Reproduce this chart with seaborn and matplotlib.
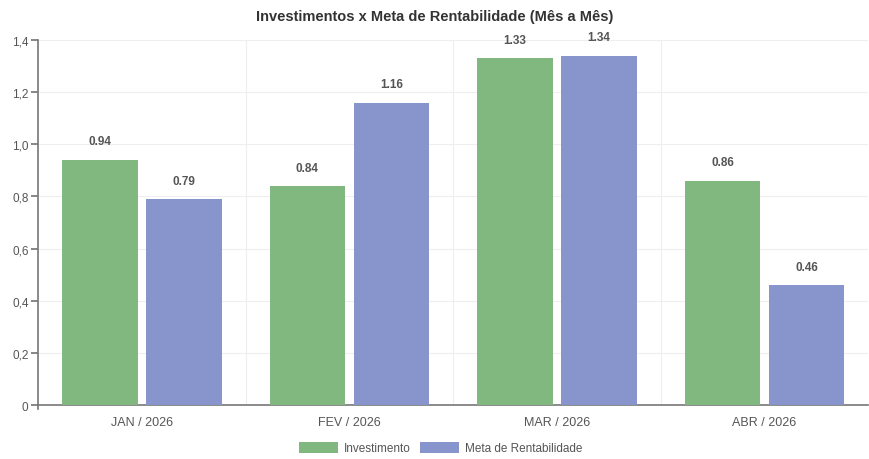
import matplotlib
matplotlib.use("Agg")
import matplotlib.pyplot as plt
import matplotlib.ticker as mticker
import seaborn as sns
import pandas as pd

meses = ["JAN / 2026", "FEV / 2026", "MAR / 2026", "ABR / 2026"]
investimento = [0.94, 0.84, 1.33, 0.86]
meta = [0.79, 1.16, 1.34, 0.46]
series = ["Investimento", "Meta de Rentabilidade"]
cores = ["#80b880", "#8895cc"]

df = pd.DataFrame({
    "mes": meses * 2,
    "valor": investimento + meta,
    "serie": [series[0]] * len(meses) + [series[1]] * len(meses),
})

sns.set_theme(style="white")
plt.rcParams["font.family"] = ["Liberation Sans", "DejaVu Sans"]

fig = plt.figure(figsize=(8.69, 4.6), dpi=100)
ax = fig.add_axes([0.044, 0.117, 0.955, 0.794])

sns.barplot(data=df, x="mes", y="valor", hue="serie", palette=cores,
            width=0.81, gap=0.1, saturation=1, linewidth=0, ax=ax, zorder=3)

# rótulos em cima das barras
for cont in ax.containers:
    ax.bar_label(cont, fmt="%.2f", padding=9, fontsize=8.5, fontweight="bold", color="#555555")

ax.set_ylim(0, 1.4)
ax.set_xlim(-0.5, 3.5)
ax.yaxis.set_major_locator(mticker.MultipleLocator(0.2))
ax.yaxis.set_major_formatter(mticker.FuncFormatter(
    lambda v, p: "0" if abs(v) < 1e-9 else f"{v:.1f}".replace(".", ",")))

ax.set_xlabel("")
ax.set_ylabel("")
ax.set_xticks(range(len(meses)))
ax.set_xticklabels(meses)
ax.set_xticks([0.5, 1.5, 2.5], minor=True)
ax.grid(axis="y", color="#eeeeee", lw=0.8, zorder=0)
ax.grid(axis="x", which="minor", color="#eeeeee", lw=0.8, zorder=0)

for s in ["top", "right"]:
    ax.spines[s].set_visible(False)
ax.spines["left"].set_color("#777777")
ax.spines["bottom"].set_color("#777777")
ax.spines["left"].set_linewidth(1.2)
ax.spines["bottom"].set_linewidth(1.2)
ax.spines["left"].set_bounds(-0.015, 1.4)

ax.tick_params(axis="y", left=True, length=5, color="#777777", labelsize=8.5, labelcolor="#555555", pad=2)
ax.tick_params(axis="x", which="major", bottom=False, labelsize=9, labelcolor="#555555", pad=2)
ax.tick_params(axis="x", which="minor", bottom=False)

ax.legend_.remove()
handles, labels = ax.get_legend_handles_labels()
fig.legend(handles[:2], labels[:2], loc="center", bbox_to_anchor=(0.507, 0.024), ncol=2,
           frameon=False, fontsize=8.5, handlelength=3.3, handleheight=1.1,
           columnspacing=0.8, handletextpad=0.5, labelcolor="#555555")

fig.text(0.5, 0.963, "Investimentos x Meta de Rentabilidade (Mês a Mês)", ha="center", va="center",
         fontsize=10.5, fontweight="bold", color="#333333")

fig.savefig("out.png", dpi=100)
